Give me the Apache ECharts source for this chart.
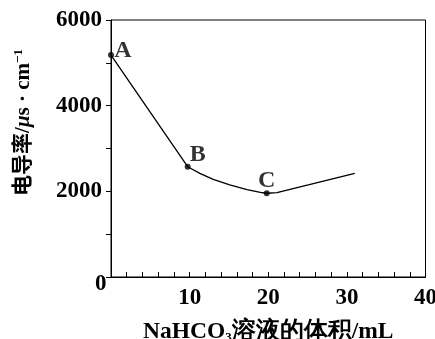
<!DOCTYPE html>
<html><head><meta charset="utf-8">
<script src="https://cdn.jsdelivr.net/npm/echarts@6/dist/echarts.min.js"></script>
<style>html,body{margin:0;padding:0;background:#fff}#c{width:435px;height:339px}</style>
</head><body><div id="c"></div>
<script>
var curveX = [0, 9.75, 11.3, 13.0, 15.1, 17.3, 19.0, 19.8, 21.1, 31.0];
var curveY = [5180, 2575, 2420, 2280, 2150, 2040, 1975, 1955, 1968, 2420];
var pointNames = ['A', 'B', 'C'];
var pointX = [0, 9.75, 19.8];
var pointY = [5180, 2575, 1955];
var xTicks = [10, 20, 30, 40];
var yTicks = [2000, 4000, 6000];

var serif = '"Liberation Serif","Times New Roman",serif';
var chart = echarts.init(document.getElementById('c'));
var labelOffsets = {A: [12, -4], B: [10, -12], C: [0, -12]};
chart.setOption({
  animation: false,
  grid: {left: 111, right: 9.5, top: 20, bottom: 62, show: true, borderColor: '#000', borderWidth: 1,
    containLabel: false, outerBoundsMode: 'none'},
  xAxis: {
    type: 'value', min: 0, max: 40, interval: 2,
    axisLine: {lineStyle: {color: '#000', width: 1}},
    axisTick: {inside: true, length: 5, lineStyle: {color: '#000'}},
    splitLine: {show: false},
    axisLabel: {margin: 10, color: '#000', fontFamily: serif, fontWeight: 'bold', fontSize: 23, hideOverlap: false,
      formatter: function (v) { return xTicks.indexOf(v) >= 0 ? String(v) : ''; }},
    name: 'NaHCO{sub|3}溶液的体积/mL',
    nameLocation: 'middle', nameGap: 43,
    nameTextStyle: {color: '#000', fontFamily: serif, fontWeight: 'bold', fontSize: 23.5,
      rich: {sub: {fontSize: 13, fontFamily: serif, fontWeight: 'bold', color: '#000', verticalAlign: 'bottom', padding: [10, 0, 0, 0]}}}
  },
  yAxis: {
    type: 'value', min: 0, max: 6000, interval: 1000,
    axisLine: {show: true, lineStyle: {color: '#000', width: 1}},
    axisTick: {show: true, length: 5, lineStyle: {color: '#000'}},
    splitLine: {show: false},
    axisLabel: {margin: 9, color: '#000', fontFamily: serif, fontWeight: 'bold', fontSize: 23, hideOverlap: false,
      formatter: function (v) { return yTicks.indexOf(v) >= 0 ? String(v) : ''; }},
    name: '{a|电导率/}{i|μ}{a|s · cm}{s|−1}',
    nameLocation: 'middle', nameGap: 76, nameRotate: 90,
    nameTextStyle: {
      padding: [0, 0, 0, 52],
      rich: {
        a: {fontSize: 21, fontFamily: serif + ',"Noto Sans CJK SC"', fontWeight: 'bold', color: '#000'},
        i: {fontSize: 21, fontFamily: serif, fontStyle: 'italic', fontWeight: 'bold', color: '#000'},
        s: {fontSize: 13, fontFamily: serif, fontWeight: 'bold', color: '#000', verticalAlign: 'top', padding: [0, 0, 10, 0]}
      }
    }
  },
  graphic: [{type: 'text', left: 95, top: 273, style: {text: '0', font: 'bold 23px ' + serif, fill: '#000'}}],
  series: [
    {type: 'line', smooth: false, showSymbol: false, data: curveX.map(function (x, i) { return [x, curveY[i]]; }),
      lineStyle: {color: '#000', width: 1.3}},
    {type: 'scatter', symbolSize: 6, itemStyle: {color: '#000'},
      data: pointX.map(function (x, i) { return {value: [x, pointY[i]], name: pointNames[i],
        label: {show: true, position: 'inside', offset: labelOffsets[pointNames[i]], formatter: pointNames[i],
          color: '#000', fontFamily: serif, fontWeight: 'bold', fontSize: 24}}; })}
  ]
});
</script></body></html>
